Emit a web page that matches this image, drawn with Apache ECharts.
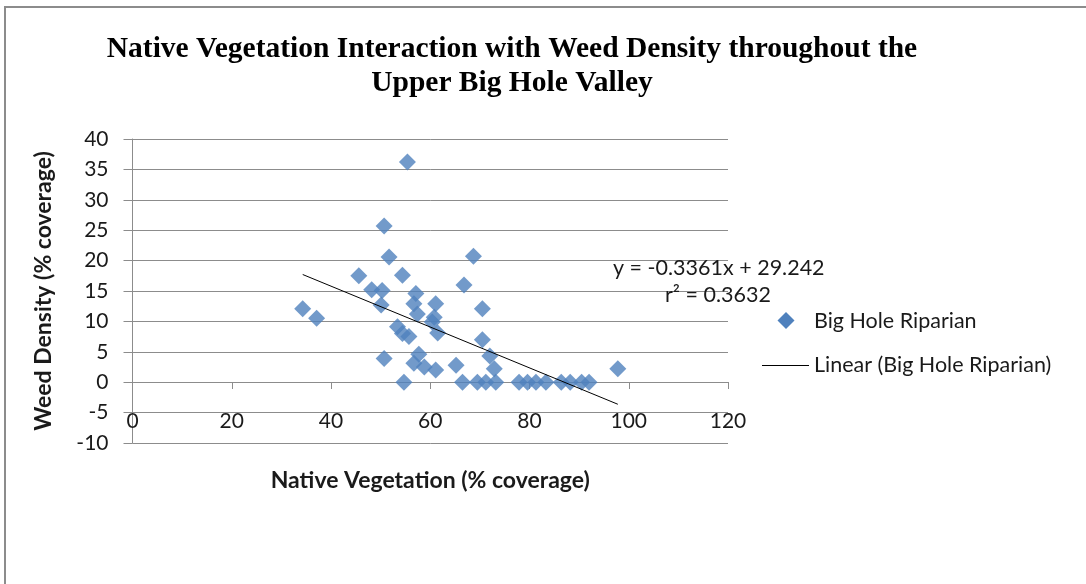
<!DOCTYPE html>
<html>
<head>
<meta charset="utf-8">
<script src="https://cdn.jsdelivr.net/npm/echarts@6/dist/echarts.min.js"></script>
<style>
html,body{margin:0;padding:0;background:#fff;}
#chart{width:1086px;height:584px;}
</style>
</head>
<body>
<div id="chart"></div>
<script>
var nativeVeg = [34.3,37.1,45.6,48.2,50.3,50.1,50.7,51.7,54.4,55.4,50.7,54.7,57.1,56.7,57.4,53.4,54.4,55.7,61.1,60.8,60.4,61.5,57.7,56.7,58.8,61.1,65.2,66.5,69.5,66.8,68.7,70.5,70.5,72.0,72.9,71.2,73.2,77.9,79.6,81.3,83.3,86.4,88.2,90.5,92.0,97.8];
var weedDensity = [12.1,10.5,17.5,15.2,15.1,12.7,25.7,20.6,17.6,36.2,3.9,0,14.6,12.9,11.2,9.1,8.0,7.5,12.9,10.7,9.9,8.1,4.6,3.1,2.5,2.0,2.8,0,0,16.0,20.7,12.1,7.0,4.3,2.2,0,0,0,0,0,0,0,0,0,0,2.2];
var trendSlope = -0.3361;
var trendIntercept = 29.242;
var rSquared = 0.3632;
var xTicks = [0,20,40,60,80,100,120];
var yTicks = [-10,-5,0,5,10,15,20,25,30,35,40];

var points = nativeVeg.map(function(x,i){return [x, weedDensity[i]];});
var xMinData = Math.min.apply(null, nativeVeg), xMaxData = Math.max.apply(null, nativeVeg);
var trend = [[xMinData, trendIntercept + trendSlope*xMinData],[xMaxData, trendIntercept + trendSlope*xMaxData]];

var chart = echarts.init(document.getElementById('chart'));
var txt = '#1a1a1a';
var gridCol = '#8c8c8c';
var fs = 21;
chart.setOption({
  animation:false,
  backgroundColor:'#fff',
  grid:{left:132.5, right:358, top:139, bottom:141},
  xAxis:{
    type:'value', min:xTicks[0], max:xTicks[xTicks.length-1], interval:20,
    offset:-61,
    axisLine:{show:true, onZero:false, lineStyle:{color:gridCol, width:1}},
    axisTick:{show:true, inside:false, length:7, lineStyle:{color:gridCol}},
    axisLabel:{margin:29, fontFamily:'Lato', fontSize:fs, color:txt},
    splitLine:{show:false},
    name:'Native Vegetation (% coverage)', nameLocation:'middle', nameGap:87,
    nameTextStyle:{fontFamily:'Lato', fontWeight:'bold', fontSize:23, color:txt}
  },
  yAxis:{
    type:'value', min:yTicks[0], max:yTicks[yTicks.length-1], interval:5,
    axisLine:{show:true, onZero:false, lineStyle:{color:gridCol, width:1}},
    axisTick:{show:true, inside:false, length:9, lineStyle:{color:gridCol}},
    axisLabel:{margin:24, fontFamily:'Lato', fontSize:fs, color:txt},
    splitLine:{show:true, lineStyle:{color:gridCol, width:1}},
    name:'Weed Density (% coverage)', nameLocation:'middle', nameGap:77,
    nameTextStyle:{fontFamily:'Lato', fontWeight:'bold', fontSize:23, color:txt}
  },
  series:[
    {name:'Big Hole Riparian', type:'scatter', symbol:'diamond', symbolSize:17,
     itemStyle:{color:'#4F81BD'}, data:points, z:3},
    {name:'Linear (Big Hole Riparian)', type:'line', data:trend, symbol:'none',
     lineStyle:{color:'#000', width:1}, z:4}
  ],
  graphic:[
    {type:'rect', shape:{x:5, y:7, width:1200, height:700}, style:{fill:'none', stroke:'#8c8c8c', lineWidth:2}, silent:true},
    {type:'text', style:{text:'Native Vegetation Interaction with Weed Density throughout the', x:512, y:49, align:'center', verticalAlign:'middle', font:'bold 29.5px "Liberation Serif"', fill:'#000'}},
    {type:'text', style:{text:'Upper Big Hole Valley', x:512, y:83, align:'center', verticalAlign:'middle', font:'bold 29.5px "Liberation Serif"', fill:'#000'}},
    {type:'text', style:{text:'y = -0.3361x + 29.242', x:613, y:268, align:'left', verticalAlign:'middle', font:'21.5px Lato', fill:txt}, z:10},
    {type:'text', style:{text:'r\u00b2 = ' + rSquared, x:665, y:295, align:'left', verticalAlign:'middle', font:'21.5px Lato', fill:txt}, z:10},
    {type:'polygon', shape:{points:[[786,312],[794.5,320.5],[786,329],[777.5,320.5]]}, style:{fill:'#4F81BD'}},
    {type:'text', style:{text:'Big Hole Riparian', x:814, y:321, align:'left', verticalAlign:'middle', font:'21.5px Lato', fill:txt}},
    {type:'line', shape:{x1:762, y1:365.5, x2:809, y2:365.5}, style:{stroke:'#000', lineWidth:1}},
    {type:'text', style:{text:'Linear (Big Hole Riparian)', x:814, y:365, align:'left', verticalAlign:'middle', font:'21.5px Lato', fill:txt}}
  ]
});
</script>
</body>
</html>
